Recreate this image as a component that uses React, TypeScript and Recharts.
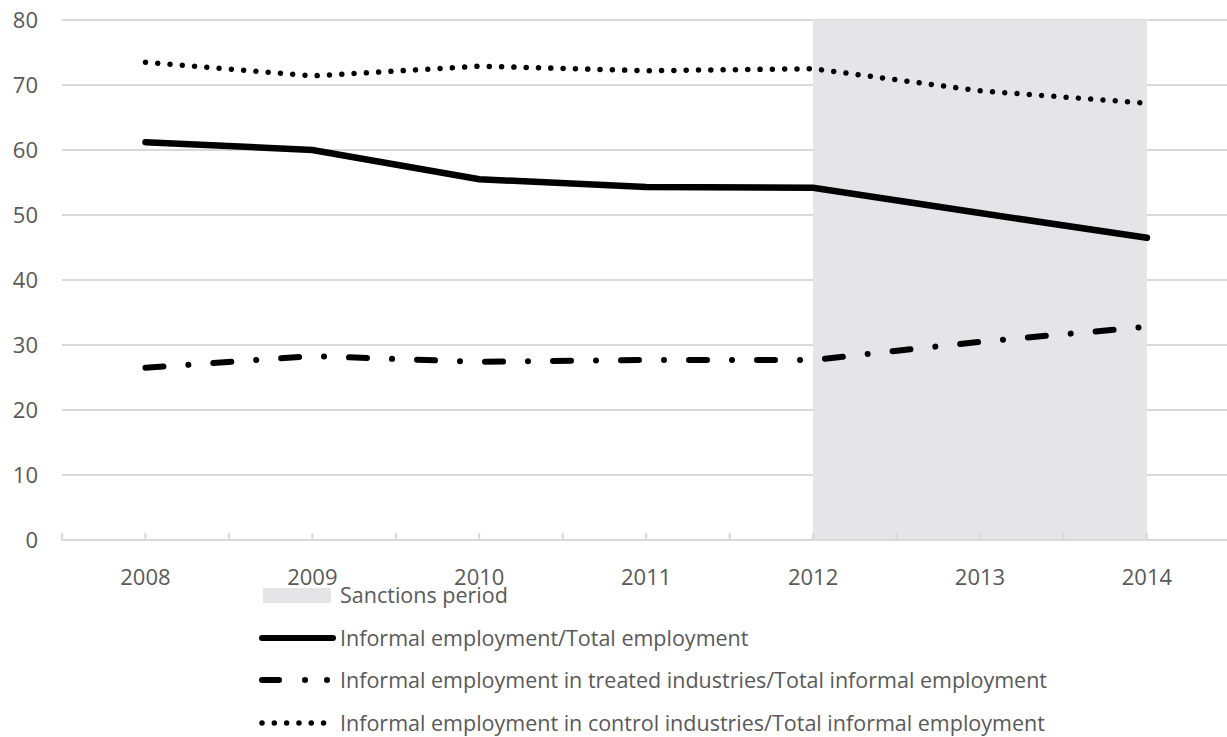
import { CartesianGrid, Line, LineChart, ReferenceArea, XAxis, YAxis } from "recharts";

const years = [2008, 2009, 2010, 2011, 2012, 2013, 2014];
const informalTotal = [61.2, 60.0, 55.5, 54.3, 54.2, 50.3, 46.5];
const treatedShare = [26.5, 28.3, 27.4, 27.7, 27.7, 30.5, 32.8];
const controlShare = [73.5, 71.4, 72.9, 72.2, 72.5, 69.1, 67.2];
const yTicks = [0, 10, 20, 30, 40, 50, 60, 70, 80];
const xTicks = [2007.5, 2008, 2008.5, 2009, 2009.5, 2010, 2010.5, 2011, 2011.5, 2012, 2012.5, 2013, 2013.5, 2014];
const sanctions = [2012, 2014];

const legendItems = [
  { label: "Sanctions period", kind: "area" },
  { label: "Informal employment/Total employment", kind: "solid" },
  { label: "Informal employment in treated industries/Total informal employment", kind: "dashdot" },
  { label: "Informal employment in control industries/Total informal employment", kind: "dot" },
];

const data = years.map((year, i) => ({
  year,
  total: informalTotal[i],
  treated: treatedShare[i],
  control: controlShare[i],
}));

const FONT = "'Open Sans', sans-serif";
const TEXT = "#595959";
const GRID = "#d9d9d9";
const SHADE = "#e5e4e6";

const DASHDOT = "18 25 0.01 25";
const DOTTED = "0.01 12.3";

function YearTick({ x, y, payload }: any) {
  const v = payload.value as number;
  return (
    <g>
      <line x1={x} x2={x} y1={y - 7} y2={y} stroke={GRID} strokeWidth={2} />
      {Number.isInteger(v) && (
        <text x={x} y={y + 45} textAnchor="middle" fill={TEXT} fontSize={22} fontFamily={FONT}>
          {v}
        </text>
      )}
    </g>
  );
}

function Swatch({ kind }: { kind: string }) {
  return (
    <svg width={78} height={20} style={{ display: "block" }}>
      {kind === "area" && <rect x={5} y={3} width={68} height={15} fill={SHADE} />}
      {kind === "solid" && (
        <line x1={4} x2={75} y1={10} y2={10} stroke="#000" strokeWidth={6} strokeLinecap="round" />
      )}
      {kind === "dashdot" && (
        <line x1={4} x2={76} y1={10} y2={10} stroke="#000" strokeWidth={6} strokeLinecap="round" strokeDasharray="17 26 0.01 22 0.01 100" />
      )}
      {kind === "dot" && (
        <line x1={4} x2={77} y1={10} y2={10} stroke="#000" strokeWidth={5.5} strokeLinecap="round" strokeDasharray={DOTTED} />
      )}
    </svg>
  );
}

export default function App() {
  return (
    <div style={{ position: "absolute", left: 0, top: 0, width: 1227, height: 737, background: "#fff" }}>
      <LineChart width={1227} height={737} data={data} margin={{ top: 20, right: 0, bottom: 0, left: 0 }}>
        <CartesianGrid horizontal vertical={false} stroke={GRID} strokeWidth={2} />
        <ReferenceArea x1={sanctions[0]} x2={sanctions[1]} y1={0} y2={80} fill={SHADE} fillOpacity={1} stroke="none" />
        <XAxis
          dataKey="year"
          type="number"
          domain={[2007.5, 2014.48]}
          ticks={xTicks}
          interval={0}
          allowDataOverflow
          height={197}
          tickSize={0}
          tickMargin={0}
          tickLine={false}
          axisLine={{ stroke: GRID, strokeWidth: 2 }}
          tick={<YearTick />}
        />
        <YAxis
          domain={[0, 80]}
          ticks={yTicks}
          width={62}
          axisLine={false}
          tickLine={false}
          tickSize={0}
          tickMargin={24}
          tick={{ fill: TEXT, fontSize: 22, fontFamily: FONT }}
        />
        <Line dataKey="control" stroke="#000" strokeWidth={5.5} strokeLinecap="round" strokeDasharray={DOTTED} dot={false} isAnimationActive={false} />
        <Line dataKey="total" stroke="#000" strokeWidth={6.5} strokeLinecap="round" dot={false} isAnimationActive={false} />
        <Line dataKey="treated" stroke="#000" strokeWidth={6} strokeLinecap="round" strokeDasharray={DASHDOT} dot={false} isAnimationActive={false} />
      </LineChart>
      <div style={{ position: "absolute", left: 258, top: 574, fontFamily: FONT, fontSize: 21.5, color: TEXT }}>
        {legendItems.map((it) => (
          <div key={it.label} style={{ display: "flex", alignItems: "center", height: 42.5, lineHeight: "24px" }}>
            <Swatch kind={it.kind} />
            <span style={{ marginLeft: 4, whiteSpace: "nowrap" }}>{it.label}</span>
          </div>
        ))}
      </div>
    </div>
  );
}
